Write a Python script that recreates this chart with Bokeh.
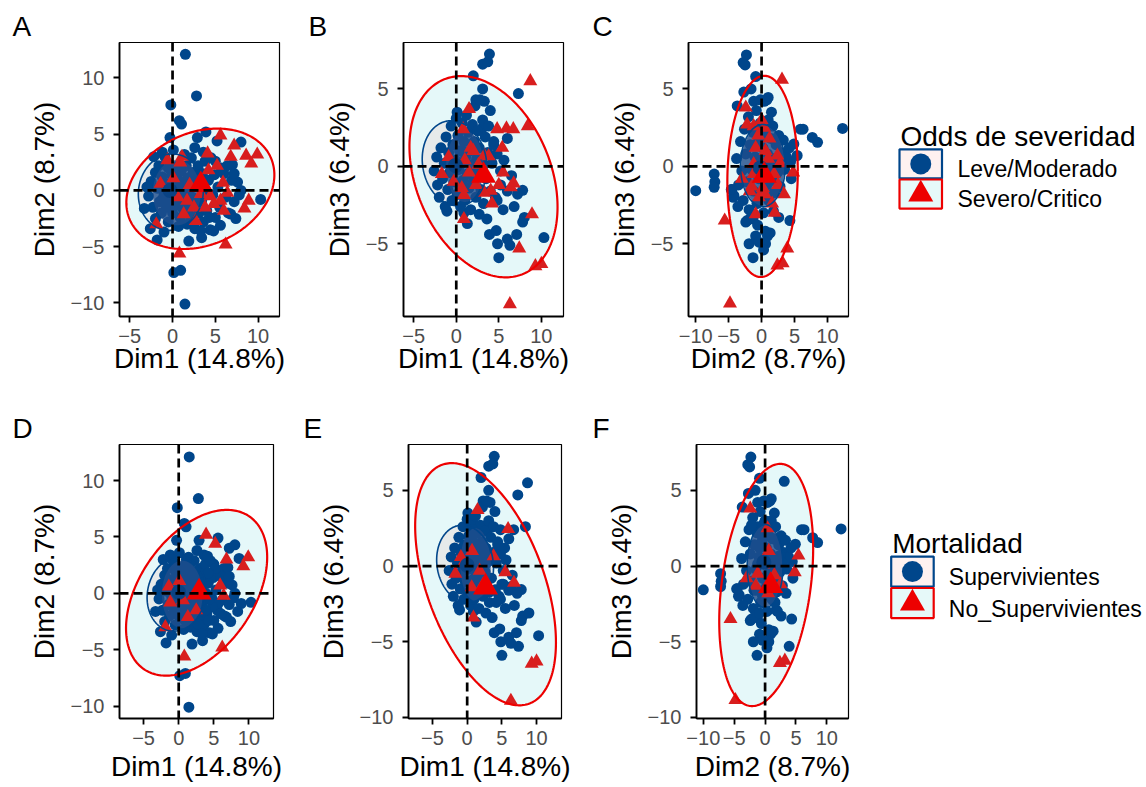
import numpy as np
from bokeh.plotting import figure
from bokeh.models import Range1d, Span, FixedTicker, CustomJSTickFormatter
from bokeh.layouts import row, column
from bokeh.embed import file_html
from bokeh.resources import INLINE
from bokeh.core.properties import value

FONT = "Liberation Sans"
BLUE = "#00468B"
RED = "#ED0000"
TRI = "#D81E1E"

# ---------------- data ----------------
var_pct = [14.8, 8.7, 6.4]                       # explained variance of Dim1..Dim3
sev_title = "Odds de severidad"
sev_labels = ["Leve/Moderado", "Severo/Critico"]
mort_title = "Mortalidad"
mort_labels = ["Supervivientes", "No_Supervivientes"]

# Individuals, Dim1 vs Dim2 (panels A, D)
# LS: leve + superviviente, SS: severo + superviviente, SN: severo + no superviviente, LN: leve + no superviviente
d12_LS = [(1.5, 12.1), (2.8, 8.4), (-0.2, 7.6), (0.8, 6.2), (1.05, 5.9), (-0.3, 4.7), (2.9, 4.7), (8.0, 4.3),
          (6.4, 2.2), (7.6, 0.75), (8.0, 0.0), (10.3, -0.8), (7.4, -2.5), (5.6, -3.1), (3.4, -4.2), (1.9, -4.5),
          (0.15, -7.3), (0.95, -7.1), (1.45, -10.1), (-1.8, -4.4), (-1.0, -3.7), (-1.2, 3.4), (-2.0, 1.6),
          (5.0, 2.6), (5.7, 2.0), (6.9, 0.9),
          (-2.8, -0.5), (-2.5, 0.8), (-2.3, -1.5), (-2.0, -2.5), (-1.8, 0.2), (-1.6, 2.2), (-1.5, -1.0),
          (-1.3, -2.0), (-1.2, 1.2), (-1.0, -0.3), (-0.9, 3.0), (-0.8, 0.6), (-0.7, -1.5), (-0.5, -2.8),
          (-0.5, 2.0), (-0.3, 0.0), (-0.2, -0.9), (-0.1, 1.4), (0.0, -2.0), (0.1, 3.6), (0.2, 0.5), (0.3, -0.4),
          (0.4, -1.3), (0.4, 2.1), (0.6, 1.0), (0.7, -3.2), (0.8, 0.2), (0.9, -2.4), (1.0, 1.7), (1.1, -0.7),
          (1.2, -1.6), (1.3, 0.7), (1.4, 3.2), (1.5, -0.2), (1.6, 2.2), (1.7, -3.0), (1.8, 1.1), (1.9, -1.2),
          (2.0, -2.2), (2.1, 0.3), (2.2, 2.9), (2.3, -0.6), (2.4, 1.6), (2.6, -3.4), (2.7, 0.9), (2.8, -1.1),
          (3.0, 2.2), (3.1, -2.0), (3.2, 0.4), (3.4, -0.9), (3.5, 1.5), (3.6, -2.8), (3.8, 2.6), (3.9, 0.0),
          (4.0, -1.8), (4.2, 0.9), (4.4, -3.5), (4.5, 2.9), (4.7, -0.4), (4.9, 1.4), (5.0, -2.4), (5.3, 0.3),
          (5.5, -1.5), (6.0, 1.5), (6.2, -0.6), (6.5, -2.0), (7.0, 2.3), (7.2, -1.0), (4.8, -3.6), (3.3, -3.6),
          (6.8, -2.1), (4.3, -2.4), (7.8, -0.4), (7.2, 1.5), (-2.6, -3.4), (-3.0, 0.3), (-3.3, -1.6),
          (-2.2, 3.0), (2.6, 3.8), (3.6, 3.4)]
d12_SS = [(5.6, 4.9), (7.2, 4.0), (8.6, 3.1), (4.1, 3.3), (5.2, 2.2), (4.2, 1.8), (3.3, 0.9), (5.6, -0.9),
          (4.8, -1.2), (6.0, -1.8), (8.9, -0.9), (8.4, -1.6), (2.7, -2.7), (1.1, 3.0), (-0.6, 2.7), (0.9, 2.5),
          (1.7, -0.9), (3.3, -0.3), (4.4, -0.5), (3.8, -1.5), (2.0, 0.5)]
d12_SN = [(6.8, 3.0), (9.9, 3.2), (9.2, 2.4), (5.9, 0.7), (6.4, -0.2), (0.1, 1.1), (-1.4, 0.6), (0.6, -0.6),
          (2.5, -1.5), (1.3, -2.1), (-1.9, -3.0), (0.8, -5.6), (6.2, -4.8)]
d12_LN = [(3.9, 5.2), (5.2, 4.4), (-1.2, -0.8)]

# Individuals, Dim1 vs Dim3 (panels B, E)
d13_LS = [(3.9, 7.25), (3.1, 6.6), (3.7, 6.75), (2.0, 5.85), (7.3, 4.7), (3.1, 5.0), (2.3, 4.3), (3.3, 4.2),
          (4.0, 3.6), (0.1, 3.5), (3.1, 2.5), (6.0, 1.8), (4.4, 1.4),
          (3.6, -3.4), (3.9, -4.4), (4.7, -4.15), (4.85, -5.0), (5.0, -5.9), (6.0, -4.7), (6.3, -5.1),
          (7.1, -4.4), (8.0, -3.3), (7.8, -3.6), (10.3, -4.6), (2.7, -3.1), (1.3, -3.7), (0.9, -3.0),
          (-1.1, -2.9), (4.8, -2.2), (5.2, -0.3), (7.8, -1.55),
          (-2.6, -0.3), (-2.3, 0.6), (-2.2, -1.2), (-2.0, -2.0), (-1.8, 1.2), (-1.6, -0.8), (-1.4, 0.2),
          (-1.3, -2.6), (-1.2, 1.9), (-1.0, -1.5), (-0.9, 0.9), (-0.8, -0.4), (-0.6, 2.6), (-0.5, -2.2),
          (-0.4, 1.4), (-0.2, -1.0), (-0.1, 0.4), (0.0, 3.1), (0.1, -1.8), (0.2, 2.0), (0.3, -0.2), (0.4, 1.0),
          (0.5, -2.6), (0.6, 0.2), (0.7, 2.8), (0.8, -0.9), (0.9, 1.6), (1.0, -2.2), (1.1, 0.6), (1.2, 3.3),
          (1.3, -0.5), (1.4, 2.2), (1.5, -1.4), (1.6, 1.0), (1.7, -2.8), (1.8, 0.1), (1.9, 2.7), (2.0, -1.0),
          (2.1, 1.6), (2.2, 3.9), (2.3, -2.0), (2.4, 0.5), (2.5, 2.3), (2.6, -0.4), (2.7, 1.2), (2.8, 4.3),
          (2.9, -1.5), (3.0, 0.3), (3.1, 3.0), (3.2, -2.4), (3.4, 1.9), (3.5, -0.8), (3.7, 0.9), (3.8, 2.6),
          (4.0, -1.6), (4.2, 0.2), (4.4, 1.6), (4.6, -2.0), (4.8, 0.8), (5.2, -1.2), (5.6, 0.4), (6.0, -1.6),
          (6.5, -0.6), (7.2, -1.8), (6.8, -2.6), (5.5, -2.8)]
d13_SS = [(8.7, 5.5), (4.8, 2.4), (6.7, 2.4), (8.4, 2.6), (5.4, 1.2), (1.7, 1.2), (3.3, 0.7), (6.4, -1.35),
          (4.05, -1.57), (3.26, -1.7), (4.2, -2.4), (0.9, -1.85), (8.9, -3.1), (7.4, -5.3), (0.8, 2.4),
          (2.0, 1.0), (1.0, 0.4), (2.6, 0.1), (5.0, -1.2), (-0.3, -1.0), (1.5, -0.4)]
d13_SN = [(1.5, 3.7), (5.9, 2.45), (3.8, 0.65), (-0.9, 0.6), (-1.7, -0.5), (5.5, -0.4), (6.75, -1.1),
          (0.65, -1.4), (0.9, -3.4), (9.3, -6.45), (10.0, -6.3), (6.3, -8.9), (2.3, -1.2)]
d13_LN = [(0.7, 1.0), (1.8, -0.3), (-0.5, 0.2)]

# Individuals, Dim2 vs Dim3 (panels C, F)
d23_LS = [(-2.3, 7.2), (-2.8, 6.7), (-2.5, 6.55), (-0.9, 5.8), (-1.6, 5.0), (-2.7, 4.8), (-3.7, 3.9),
          (-1.2, 4.2), (1.0, 4.45), (1.5, 3.5), (-0.2, 4.3), (0.8, 4.3),
          (5.9, 2.4), (6.3, 2.4), (7.7, 1.87), (8.5, 1.55), (12.3, 2.45), (4.9, 1.44), (3.4, 0.6), (4.4, 0.3),
          (-7.2, -0.5), (-7.1, -1.0), (-7.2, -1.35), (-10.0, -1.57), (-4.5, -1.5), (-4.2, -1.9),
          (2.6, -3.3), (4.3, -3.5), (-2.2, -3.5), (-1.3, -3.4), (-0.9, -4.5), (0.9, -4.5), (-1.9, -5.0),
          (-0.4, -4.9), (0.6, -5.0), (1.3, -4.3), (-1.3, -5.9), (0.3, -5.4),
          (-3.8, 0.5), (-3.5, -1.2), (-3.2, 1.6), (-3.0, -0.3), (-2.8, -2.2), (-2.6, 2.4), (-2.4, 0.8),
          (-2.2, -1.0), (-2.0, 3.2), (-1.9, -2.8), (-1.7, 1.4), (-1.5, -0.2), (-1.3, 2.2), (-1.2, -1.6),
          (-1.0, 0.6), (-0.8, 3.6), (-0.7, -2.4), (-0.5, 1.6), (-0.4, -0.8), (-0.2, 2.8), (-0.1, 0.2),
          (0.0, -1.8), (0.2, 1.2), (0.3, -3.0), (0.4, 4.2), (0.5, -0.5), (0.6, 2.0), (0.8, -1.2), (0.9, 0.8),
          (1.0, 3.0), (1.1, -2.2), (1.3, 0.0), (1.4, 1.8), (1.6, -0.9), (1.7, 2.6), (1.9, -1.7), (2.0, 0.5),
          (2.2, 1.4), (2.4, -0.4), (2.6, 2.0), (2.8, -1.3), (3.0, 0.9), (3.3, 1.7), (3.5, -0.2), (3.8, 0.6),
          (4.2, 1.2), (4.5, -0.8), (-4.3, -2.0), (-4.6, -1.5), (-3.6, -2.6), (-2.4, -3.6), (-1.6, -3.3),
          (-0.6, -3.8), (0.6, -4.2), (1.8, -2.9)]
d23_SS = [(3.1, 5.6), (-1.2, 2.6), (-0.9, 1.2), (2.4, 0.7), (-1.2, 0.15), (3.4, -1.8), (1.6, -2.4),
          (-0.9, -3.1), (3.9, -5.3), (1.0, 0.5), (-0.3, -0.8), (0.2, -1.4), (-1.8, -1.6), (1.9, -0.5),
          (2.8, 0.2), (-0.5, 2.0), (-2.2, 2.7), (1.2, 1.8), (0.0, 3.0), (-0.4, -2.0), (2.0, -3.0)]
d23_SN = [(-2.4, 3.8), (0.4, 2.5), (0.6, 1.0), (4.8, -0.4), (-3.0, -0.8), (-1.2, -0.5), (-1.5, -1.3),
          (2.5, -1.2), (-5.6, -3.5), (2.4, -6.4), (3.2, -6.25), (-4.8, -8.85), (0.5, -1.8)]
d23_LN = [(5.4, 0.7), (-0.3, 0.1), (1.5, -0.6)]

# Concentration ellipses per panel: [centre x, centre y, sd x, sd y, correlation]
ell_red = {"A": [3.25, 0.15, 8.65, 5.35, 0.23], "B": [3.2, -0.67, 8.7, 6.5, -0.30],
           "C": [0.15, -0.65, 5.35, 6.5, 0.05], "D": [2.55, 0.05, 10.05, 7.35, 0.43],
           "E": [2.65, -1.2, 10.15, 8.0, -0.48], "F": [0.18, -1.25, 7.6, 8.0, 0.30]}
ell_blue = {"A": [-0.2, -0.15, 3.8, 3.4, 0.05], "B": [-0.2, 0.2, 3.8, 2.75, -0.10],
            "C": [0.2, 0.05, 3.4, 2.65, 0.0], "D": [-0.3, -0.05, 4.2, 3.3, 0.10],
            "E": [-0.3, 0.15, 4.1, 2.55, -0.10], "F": [0.0, 0.0, 2.9, 2.75, 0.0]}
ell_core = {"A": [0.5, -0.2, 2.8, 2.9, 0.0], "B": [1.0, 0.0, 2.2, 2.3, 0.0],
            "C": [0.2, 0.05, 3.3, 2.6, 0.0], "D": [0.5, -0.1, 2.9, 3.0, 0.0],
            "E": [1.2, 0.1, 2.2, 2.4, 0.0], "F": [0.0, 0.0, 2.85, 2.7, 0.0]}
# Group means per panel
mean_blue = {"A": (-0.3, 0.0), "B": (-0.1, 0.05), "C": (-0.2, -0.1),
             "D": (0.0, 0.1), "E": (0.0, 0.05), "F": (-0.2, 0.25)}
mean_red = {"A": (3.3, 0.5), "B": (3.2, -0.6), "C": (0.4, -0.6),
            "D": (2.9, 0.1), "E": (2.65, -1.4), "F": (0.9, -1.3)}

# ---------------- helpers ----------------
def dim_label(i):
    return f"Dim{i} ({var_pct[i - 1]}%)"


def ellipse_xy(par, n=240):
    cx, cy, sx, sy, r = par
    t = np.linspace(0, 2 * np.pi, n)
    x = cx + sx * np.cos(t)
    y = cy + sy * (r * np.cos(t) + np.sqrt(1 - r * r) * np.sin(t))
    return x, y


minus_fmt = "return tick < 0 ? '\u2212' + (-tick) : '' + tick;"


def make_panel(letter, blue_pts, red_pts, dx, dy, xr, yr, xt, yt, w, h, mb, toff, xls):
    p = figure(width=w, height=h, x_range=Range1d(*xr), y_range=Range1d(*yr),
               output_backend="svg", toolbar_location=None, title=letter,
               min_border_left=mb[0], min_border_right=mb[1], min_border_top=mb[2], min_border_bottom=mb[3])
    p.background_fill_color = "white"
    p.border_fill_color = "white"
    p.xgrid.grid_line_color = None
    p.ygrid.grid_line_color = None
    p.outline_line_color = "black"
    p.outline_line_width = 1.2

    ex, ey = ellipse_xy(ell_red[letter])
    bx_, by_ = ellipse_xy(ell_blue[letter])
    cx_, cy_ = ellipse_xy(ell_core[letter])
    p.patch(ex, ey, fill_color="#00BFC4", fill_alpha=0.1, line_color=None)
    p.patch(bx_, by_, fill_color="#F8766D", fill_alpha=0.1, line_color=None)
    bx, by = zip(*blue_pts)
    p.scatter(list(bx), list(by), marker="circle", size=11, fill_color=BLUE, line_color=None)
    p.patch(cx_, cy_, fill_color="#1E4E8C", fill_alpha=0.8, line_color=None)
    rx, ry = zip(*red_pts)
    p.scatter(list(rx), list(ry), marker="triangle", size=14, fill_color=TRI, line_color=None)
    p.line(ex, ey, line_color=RED, line_width=2.2)
    p.line(bx_, by_, line_color=BLUE, line_width=1.6)
    mbx, mby = mean_blue[letter]
    mrx, mry = mean_red[letter]
    p.scatter([mbx], [mby], marker="circle", size=15, fill_color="#0A4384", line_color=None)
    p.scatter([mrx], [mry], marker="triangle", size=25, fill_color=RED, line_color=None)

    for dim in ("width", "height"):
        p.add_layout(Span(location=0, dimension=dim, line_dash="9 5", line_width=2.7, line_color="black"))

    p.xaxis.ticker = FixedTicker(ticks=xt)
    p.yaxis.ticker = FixedTicker(ticks=yt)
    p.xaxis.axis_label = dim_label(dx)
    p.yaxis.axis_label = dim_label(dy)
    for ax in (p.xaxis[0], p.yaxis[0]):
        ax.formatter = CustomJSTickFormatter(code=minus_fmt)
        ax.axis_line_width = 1.8
        ax.axis_line_color = "black"
        ax.major_tick_line_width = 1.8
        ax.major_tick_line_color = "black"
        ax.major_tick_out = 6
        ax.major_tick_in = 0
        ax.minor_tick_line_color = None
        ax.major_label_text_font = FONT
        ax.major_label_text_font_size = "20px"
        ax.major_label_text_color = "#4D4D4D"
        ax.axis_label_text_font = FONT
        ax.axis_label_text_font_size = "28px"
        ax.axis_label_text_font_style = "normal"
        ax.axis_label_text_color = "black"
    p.xaxis.major_label_standoff = 6
    p.yaxis.major_label_standoff = 9
    p.xaxis.axis_label_standoff = xls
    p.yaxis.axis_label_standoff = 8

    p.title.text_font = FONT
    p.title.text_font_size = "28px"
    p.title.text_font_style = "normal"
    p.title.text_color = "black"
    p.title.align = "left"
    p.title.offset = toff
    p.title.standoff = 2
    return p


def make_legend(title, labels, tx, ty, box_l, box_tops, lab_x, lab_base, ymin, ymax):
    p = figure(width=286, height=ymax - ymin, x_range=Range1d(860, 1146), y_range=Range1d(ymax, ymin),
               output_backend="svg", toolbar_location=None, x_axis_type=None, y_axis_type=None,
               min_border_left=0, min_border_right=0, min_border_top=0, min_border_bottom=0)
    p.outline_line_color = None
    p.xgrid.grid_line_color = None
    p.ygrid.grid_line_color = None
    p.text(x=[tx], y=[ty], text=[title], text_font=value(FONT), text_font_size="28px",
           text_baseline="alphabetic", text_align="left", text_color="black")
    fills = ["#FEF1F0", "#E6F9F9"]
    lines = [BLUE, RED]
    for i in range(2):
        top = box_tops[i]
        p.quad(left=[box_l], right=[box_l + 42.5], top=[top], bottom=[top + 42.5],
               fill_color=fills[i], line_color=lines[i], line_width=2.2)
    cxm = box_l + 21.25
    p.scatter([cxm], [box_tops[0] + 21.25], marker="circle", size=21, fill_color=BLUE, line_color=None)
    p.scatter([cxm], [box_tops[1] + 21.5], marker="triangle", size=25, fill_color=RED, line_color=None)
    p.text(x=[lab_x, lab_x], y=lab_base, text=labels, text_font=value(FONT), text_font_size="23px",
           text_baseline="alphabetic", text_align="left", text_color="black")
    return p


top_blue12 = d12_LS + d12_LN
top_red12 = d12_SS + d12_SN
bot_blue12 = d12_LS + d12_SS
bot_red12 = d12_SN + d12_LN
top_blue13 = d13_LS + d13_LN
top_red13 = d13_SS + d13_SN
bot_blue13 = d13_LS + d13_SS
bot_red13 = d13_SN + d13_LN
top_blue23 = d23_LS + d23_LN
top_red23 = d23_SS + d23_SN
bot_blue23 = d23_LS + d23_SS
bot_red23 = d23_SN + d23_LN

pA = make_panel("A", top_blue12, top_red12, 1, 2, (-6.2, 12.5), (-11.2, 13.15), [-5, 0, 5, 10],
                [-10, -5, 0, 5, 10], 290, 400, (119, 11, 42, 84), -107, -3)
pB = make_panel("B", top_blue13, top_red13, 1, 3, (-6.2, 12.6), (-9.7, 8.0), [-5, 0, 5, 10],
                [-5, 0, 5], 285, 400, (113, 12, 42, 84), -95, -3)
pC = make_panel("C", top_blue23, top_red23, 2, 3, (-11.1, 13.2), (-9.7, 8.0), [-10, -5, 0, 5, 10],
                [-5, 0, 5], 285, 400, (113, 12, 42, 84), -96, -3)
pD = make_panel("D", bot_blue12, bot_red12, 1, 2, (-8.43, 13.5), (-11.1, 13.2), [-5, 0, 5, 10],
                [-10, -5, 0, 5, 10], 290, 387, (119, 17, 44, 69), -107, 3)
pE = make_panel("E", bot_blue13, bot_red13, 1, 3, (-8.46, 13.6), (-10.07, 8.03), [-5, 0, 5, 10],
                [-10, -5, 0, 5], 285, 387, (118, 14, 44, 69), -105, 3)
pF = make_panel("F", bot_blue23, bot_red23, 2, 3, (-11.1, 13.5), (-10.07, 8.03), [-10, -5, 0, 5, 10],
                [-10, -5, 0, 5], 285, 387, (121, 12, 44, 69), -104, 3)

L1 = make_legend(sev_title, sev_labels, 900, 137, 899, [156, 200], 957, [185, 228], 0, 400)
L2 = make_legend(mort_title, mort_labels, 891.7, 540, 890.7, [558.3, 602.7], 948.3, [587.7, 631.7], 400, 787)

layout = column(row(pA, pB, pC, L1), row(pD, pE, pF, L2))
open("out.html", "w").write(file_html(layout, INLINE))
